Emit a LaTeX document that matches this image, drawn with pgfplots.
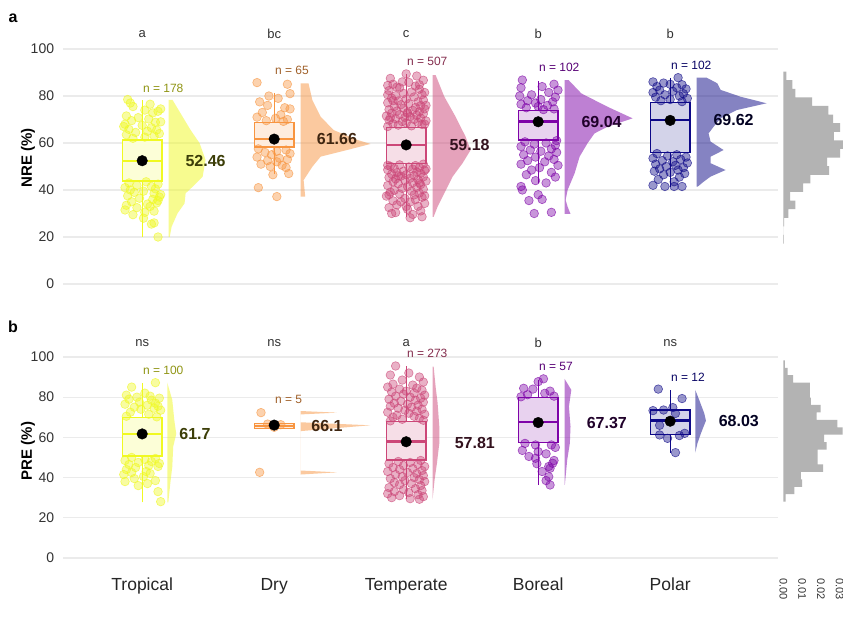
\documentclass[border=0pt]{standalone}
\usepackage{fontspec}
\setmainfont{Liberation Sans}
\usepackage{pgfplots}
\pgfplotsset{compat=1.18}
\definecolor{cT}{HTML}{F0F921}
\definecolor{cD}{HTML}{F89540}
\definecolor{cM}{HTML}{CC4778}
\definecolor{cB}{HTML}{7E03A8}
\definecolor{cP}{HTML}{0D0887}
\definecolor{histgray}{HTML}{B3B3B3}
\definecolor{gridc}{HTML}{EBEBEB}
\newcommand{\fs}[1]{\fontsize{#1}{#1}\selectfont}
\pgfplotsset{
  rain/.style={scale only axis, width=715.4pt, xmin=0.4, xmax=5.82, ymin=-5, ymax=110,
    anchor=south west, clip=false,
    axis line style={draw=none}, major tick length=0pt,
    ymajorgrids, grid style={color=gridc, line width=1.2pt},
    ytick={0,20,40,60,80,100},
    /pgf/number format/assume math mode=true,
    yticklabel style={font=\fs{14}, text=black!80, anchor=east, inner sep=0pt, xshift=-8.7pt}},
  pts/.style={only marks, mark=*, mark size=4.3pt, mark options={solid, fill=#1, fill opacity=0.42, draw=#1, draw opacity=0.65, line width=0.6pt}},
  vio/.style={fill=#1, fill opacity=0.5, draw=none},
  meanpt/.style={only marks, mark=*, mark size=5.3pt, mark options={fill=black, draw=black}},
  hist/.style={scale only axis, width=60pt, xmin=0, xmax=0.032, ymin=-5, ymax=110, anchor=south west, clip=false}
}
% box: colour, x, left, right, lower whisker, q1, median, q3, upper whisker
\newcommand{\boxp}[9]{%
 \addplot[draw=#1, line width=1.3pt, forget plot] coordinates {(#2,#5) (#2,#6)};
 \addplot[draw=#1, line width=1.3pt, forget plot] coordinates {(#2,#8) (#2,#9)};
 \addplot[draw=#1, fill=#1!18!white, line width=1.3pt, line cap=rect, forget plot] coordinates {(#3,#6) (#4,#6) (#4,#8) (#3,#8) (#3,#6)};
 \addplot[draw=#1, line width=2.4pt, forget plot] coordinates {(#3,#7) (#4,#7)};
}
\newcommand{\nlab}[4]{\node[font=\fs{12}, text=#1, anchor=west, inner sep=0pt] at (axis cs:#2,#3) {n = #4};}
\newcommand{\mlab}[4]{\node[font=\bfseries\fs{16}, text=#1!25!black, inner sep=0pt] at (axis cs:#2,#3) {#4};}
\newcommand{\sig}[3]{\node[font=\fs{13}, text=black!80, inner sep=0pt] at (axis cs:#1,#2) {#3};}
\begin{document}
\begin{tikzpicture}
\useasboundingbox (0pt,0pt) rectangle (843pt,616pt);
\fill[white] (0pt,0pt) rectangle (843pt,616pt);
% ================= Panel a =================
\begin{axis}[rain, height=270.25pt, at={(63pt,320.25pt)}, xtick=\empty]
% violins
\addplot[vio=cT] coordinates {(1.2,78.3) (1.23,78.3) (1.276,74.0) (1.367,65.5) (1.435,59.9) (1.48,52.8) (1.458,45.7) (1.382,41.4) (1.329,38.6) (1.321,34.3) (1.268,30.1) (1.223,24.4) (1.208,19.9) (1.2,19.9)};
\addplot[vio=cD] coordinates {(2.2,85.4) (2.26,85.4) (2.289,78.3) (2.352,71.2) (2.45,65.5) (2.63,61.3) (2.73,59.6) (2.60,57.7) (2.352,54.2) (2.289,49.9) (2.223,44.2) (2.235,37.2) (2.2,37.2)};
\addplot[vio=cM] coordinates {(3.2,88.9) (3.223,88.9) (3.289,79.7) (3.374,71.2) (3.45,62.7) (3.488,57.0) (3.427,51.4) (3.352,45.7) (3.289,38.6) (3.238,32.9) (3.208,28.6) (3.2,28.6)};
\addplot[vio=cB] coordinates {(4.2,86.8) (4.23,86.8) (4.327,81.1) (4.526,75.4) (4.715,70.5) (4.526,66.9) (4.427,64.1) (4.374,59.9) (4.314,54.2) (4.276,47.1) (4.223,40.0) (4.208,35.7) (4.223,32.9) (4.245,29.8) (4.2,29.8)};
\addplot[vio=cP] coordinates {(5.2,87.8) (5.276,87.8) (5.357,85.4) (5.382,82.6) (5.533,79.7) (5.73,76.9) (5.503,74.0) (5.382,70.5) (5.329,66.9) (5.291,64.1) (5.306,60.6) (5.405,57.0) (5.306,54.2) (5.306,51.4) (5.42,48.5) (5.306,45.7) (5.253,43.5) (5.208,41.4) (5.2,41.4)};
% points
\addplot[pts=cT] coordinates {(0.89,78.5) (0.91,77.0) (1.06,76.5) (0.93,75.5) (1.02,74.0) (1.12,73.5) (1.08,72.8) (0.88,71.5) (0.97,70.8) (1.05,70.2) (0.92,69.5) (1.10,68.8) (0.87,68.0) (1.00,67.5) (1.07,66.5) (0.90,65.8) (1.11,65.5) (1.04,65.0) (0.95,64.5) (1.13,64.0) (0.88,63.5) (1.09,63.0) (1.02,62.5) (0.93,62.0) (1.14,74.5) (0.86,67.0) (1.14,69.0)
(1.03,43.5) (0.90,43.0) (1.12,42.5) (0.96,42.0) (1.07,41.5) (0.87,41.0) (1.10,40.5) (0.91,40.0) (1.01,39.5) (0.94,39.0) (1.09,38.5) (0.89,37.5) (1.13,37.0) (0.98,36.5) (1.08,36.0) (0.92,35.0) (1.11,34.5) (1.04,34.0) (0.88,33.5) (1.06,33.0) (0.96,32.5) (0.87,31.5) (1.09,31.0) (1.02,30.5) (0.93,29.5) (1.01,28.0) (1.09,26.0) (1.07,25.5) (1.12,20.0) (1.14,38.0) (1.12,35.5)};
\addplot[pts=cD] coordinates {(1.87,85.7) (2.10,85.0) (2.12,81.0) (1.96,80.0) (2.03,79.0) (1.89,77.5) (1.95,76.0) (2.08,75.0) (2.12,74.5) (1.91,73.0) (2.05,72.0) (1.87,71.0) (2.01,70.5) (2.10,70.0) (1.94,69.5) (2.07,69.2)
(1.88,57.5) (2.09,57.0) (2.02,56.5) (1.93,56.0) (2.12,55.5) (1.98,55.0) (1.87,54.0) (2.10,53.0) (1.95,52.5) (2.02,52.0) (1.90,51.0) (2.06,50.5) (1.97,50.0) (2.11,47.0) (1.99,46.5) (1.88,41.0) (2.02,37.2) (2.04,53.5) (2.09,49.5)};
\addplot[pts=cM] coordinates {(2.86,67.0) (3.04,67.3) (2.94,67.6) (3.12,67.9) (2.90,68.2) (3.00,68.5) (3.09,68.8) (2.97,69.1) (3.15,69.4) (2.87,69.7) (3.06,70.0) (2.92,70.3) (3.11,70.6) (2.99,70.9) (3.03,71.2) (2.85,71.5) (3.08,71.8) (2.95,72.1) (3.13,72.4) (2.89,72.7) (3.01,73.0) (3.10,73.3) (2.93,73.6) (3.05,73.9) (2.87,74.2) (3.14,74.5) (2.98,74.8) (3.07,75.1) (2.91,75.5) (3.11,75.9) (2.96,76.3) (3.02,76.7) (2.86,77.1) (3.09,77.5) (2.94,77.9) (3.13,78.3) (3.00,78.7) (2.89,79.1) (3.06,79.6) (2.92,80.1) (3.12,80.6) (2.98,81.1) (3.04,81.7) (2.87,82.3) (3.10,82.9) (2.95,83.5) (3.07,84.2) (2.90,85.0) (3.02,85.8) (3.13,86.7) (2.88,87.5) (3.08,88.5) (3.00,89.4)
(3.14,68.0) (2.88,70.8) (3.01,72.6) (3.15,76.0) (2.90,78.0) (2.86,80.5) (3.14,81.5) (2.93,83.8) (2.86,84.5) (3.10,84.8) (2.97,86.0)
(3.13,51.0) (2.95,50.7) (3.07,50.4) (2.88,50.1) (3.02,49.8) (3.10,49.5) (2.91,49.2) (3.05,48.9) (2.86,48.6) (3.14,48.3) (2.98,48.0) (3.08,47.7) (2.93,47.4) (3.11,47.1) (2.89,46.8) (3.00,46.5) (3.06,46.2) (2.96,45.9) (3.13,45.6) (2.87,45.3) (3.03,45.0) (2.92,44.7) (3.09,44.4) (2.99,44.1) (3.15,43.8) (2.90,43.5) (3.05,43.1) (2.94,42.7) (3.11,42.3) (2.86,41.9) (3.01,41.5) (3.08,41.1) (2.97,40.7) (3.13,40.3) (2.91,39.9) (3.04,39.5) (2.88,39.1) (3.10,38.7) (2.95,38.3) (3.06,37.9) (2.85,37.4) (3.12,36.9) (2.99,36.4) (3.07,35.9) (2.90,35.4) (3.03,34.9) (3.14,34.3) (2.93,33.7) (3.09,33.1) (2.87,32.5) (3.01,31.8) (3.11,31.1) (2.92,30.4) (3.05,29.6) (3.12,28.6)
(2.86,50.5) (3.15,49.0) (2.94,46.0) (3.10,43.0) (2.87,38.0) (3.00,33.0) (2.89,30.0) (3.03,28.2) (3.14,37.5) (2.96,35.0)};
\addplot[pts=cB] coordinates {(3.88,86.8) (4.12,85.0) (4.03,84.0) (3.87,83.5) (4.15,82.5) (4.08,81.5) (3.95,80.5) (3.86,80.0) (4.13,79.5) (4.02,78.5) (3.92,78.0) (4.11,77.5) (3.98,77.0) (3.87,76.5) (4.07,76.0) (4.00,75.5) (3.91,75.0) (4.12,74.5) (4.04,74.2)
(4.14,61.0) (3.90,60.5) (4.06,60.0) (3.97,59.5) (4.13,59.0) (3.87,58.5) (4.10,57.5) (3.94,57.0) (4.02,56.5) (4.14,56.0) (3.89,55.0) (4.08,54.5) (3.98,54.0) (4.12,53.0) (3.92,52.5) (4.05,52.0) (3.87,51.0) (4.15,50.5) (4.01,49.5) (3.95,48.5) (4.10,47.5) (3.91,46.5) (4.13,45.5) (3.98,44.0) (4.06,43.0) (3.87,41.5) (3.88,40.0) (4.00,38.0) (4.03,36.0) (3.93,35.5) (3.97,30.0) (4.10,30.5)};
\addplot[pts=cP] coordinates {(5.06,87.8) (4.87,86.0) (4.95,85.5) (5.00,85.0) (5.09,84.8) (4.90,84.0) (5.05,83.5) (5.12,83.0) (4.92,82.5) (5.02,82.0) (4.87,81.5) (5.10,81.0) (4.96,80.5) (5.07,80.0) (4.89,79.5) (5.13,79.0) (5.00,78.5) (4.93,78.0) (5.09,77.6)
(4.90,55.5) (5.05,55.0) (4.98,54.5) (5.12,54.0) (4.87,53.5) (5.08,53.0) (4.94,52.5) (5.02,52.0) (5.13,51.5) (4.89,51.0) (5.04,50.5) (4.97,50.0) (5.10,49.5) (4.92,49.0) (5.06,48.5) (4.88,48.0) (5.00,47.5) (5.11,47.0) (4.95,46.5) (5.07,45.5) (4.91,44.5) (5.03,43.5) (4.87,42.0) (4.96,41.5) (5.03,41.5) (5.09,41.5)};
% boxes
\boxp{cT}{1}{0.85}{1.15}{19.9}{43.8}{52.3}{61.3}{78.3}
\boxp{cD}{2}{1.85}{2.15}{46.8}{58.3}{61.8}{68.8}{81.1}
\boxp{cM}{3}{2.85}{3.15}{28.6}{51.4}{59.1}{66.5}{89.4}
\boxp{cB}{4}{3.85}{4.15}{42.8}{61.3}{69.1}{73.8}{86.5}
\boxp{cP}{5}{4.85}{5.15}{41.4}{55.9}{69.8}{77.3}{87.5}
% means
\addplot[meanpt] coordinates {(1,52.46) (2,61.66) (3,59.18) (4,69.04) (5,69.62)};
\mlab{cT}{1.48}{52.2}{52.46}
\mlab{cD}{2.475}{61.66}{61.66}
\mlab{cM}{3.48}{59.18}{59.18}
\mlab{cB}{4.48}{69.04}{69.04}
\mlab{cP}{5.48}{69.62}{69.62}
\nlab{cT!60!black}{1.005}{83.4}{178}
\nlab{cD!65!black}{2.005}{90.8}{65}
\nlab{cM!65!black}{3.005}{94.6}{507}
\nlab{cB!70!black}{4.005}{92.0}{102}
\nlab{cP!75!black}{5.005}{93.2}{102}
\sig{1}{106.4}{a}
\sig{2}{106.4}{bc}
\sig{3}{106.4}{c}
\sig{4}{106.4}{b}
\sig{5}{106.4}{b}
\end{axis}
\begin{axis}[hist, height=270.25pt, at={(783.3pt,320.25pt)}, hide axis]
\addplot[xbar interval, fill=histgray, draw=none] coordinates {(0.0003,17.2) (0,20.86) (0.0005,24.52) (0.0027,28.18) (0.0064,31.84) (0.0037,35.5) (0.0106,39.16) (0.0144,42.82) (0.0245,46.48) (0.0234,50.14) (0.0303,53.8) (0.0320,57.46) (0.0270,61.12) (0.0303,64.78) (0.0266,68.44) (0.0240,72.1) (0.0154,75.76) (0.0064,79.42) (0.0048,83.08) (0.0016,86.74) (0,90.4)};
\end{axis}
% ================= Panel b =================
\begin{axis}[rain, height=231.15pt, at={(63pt,48pt)}, xtick={1,2,3,4,5}, xticklabels={Tropical,Dry,Temperate,Boreal,Polar},
  xticklabel style={font=\fs{17.5}, text=black!85, anchor=base, inner sep=0pt, yshift=-22.5pt}]
\addplot[vio=cT] coordinates {(1.19,87.2) (1.228,78.6) (1.243,68.7) (1.258,61.7) (1.235,55.4) (1.228,45.4) (1.213,37.2) (1.198,27.7) (1.19,27.7)};
\addplot[vio=cD] coordinates {(2.2,73.1) (2.475,72.3) (2.2,71.4) (2.2,67.5) (2.727,66.0) (2.2,63.1) (2.2,43.5) (2.475,42.6) (2.2,41.5)};
\addplot[vio=cM] coordinates {(3.2,95.2) (3.208,95.2) (3.223,85.2) (3.238,77.1) (3.251,65.3) (3.251,57.1) (3.233,47.1) (3.215,38.8) (3.2,29.2)};
\addplot[vio=cB] coordinates {(4.2,89.1) (4.251,83.6) (4.233,75.3) (4.245,65.3) (4.24,57.1) (4.22,48.8) (4.202,36.3) (4.2,36.3)};
\addplot[vio=cP] coordinates {(5.19,83.6) (5.22,78.6) (5.258,72.0) (5.271,68.3) (5.233,62.0) (5.207,57.1) (5.19,52.4)};
\addplot[pts=cT] coordinates {(1.10,87.2) (0.92,85.0) (1.02,82.0) (0.88,81.0) (1.06,80.5) (0.96,80.0) (1.13,79.5) (0.90,79.0) (1.07,78.5) (0.98,77.5) (1.10,77.0) (0.87,76.5) (1.04,76.0) (1.12,75.5) (0.94,75.0) (1.09,74.5) (0.99,74.0) (1.14,73.5) (0.91,72.5) (1.05,71.5) (0.88,70.5) (1.11,70.2)
(0.92,50.0) (1.10,49.5) (1.02,49.0) (0.87,48.5) (1.07,48.0) (0.97,47.5) (1.13,47.0) (0.90,46.5) (1.05,46.0) (1.12,45.5) (0.95,45.0) (0.88,44.0) (1.03,43.0) (0.92,42.5) (1.06,42.0) (0.86,41.5) (1.01,40.5) (0.94,39.5) (1.10,38.5) (0.87,38.0) (1.04,37.0) (0.97,36.0) (1.12,33.0) (1.14,28.0)};
\addplot[pts=cD] coordinates {(1.90,72.3) (1.89,42.6) (2.00,65.0) (2.05,66.3) (1.95,66.6)};
\addplot[pts=cM] coordinates {(2.92,95.5) (3.02,92.0) (2.88,91.0) (3.10,90.0) (2.97,88.5) (3.13,87.5) (2.90,86.5) (3.05,86.0) (2.86,85.0) (3.08,84.5) (2.95,84.0) (3.12,83.5) (3.00,83.0) (2.89,82.5) (3.06,82.0) (2.98,81.5) (3.14,81.0) (2.92,80.5) (3.03,80.0) (3.11,79.5) (2.87,79.0) (3.07,78.5) (2.96,78.0) (3.13,77.5) (2.91,77.0) (3.01,76.5) (3.09,76.0) (2.88,75.5) (3.04,75.0) (2.94,74.5) (3.12,74.0) (2.99,73.5) (3.08,73.0) (2.86,72.5) (3.02,72.0) (3.14,71.5) (2.93,71.0) (3.06,70.5) (2.90,70.0) (3.10,69.5) (2.97,69.0) (3.13,68.5) (2.88,68.2)
(3.11,48.5) (2.94,48.0) (3.03,47.5) (2.87,47.0) (3.09,46.5) (2.98,46.0) (3.14,45.5) (2.90,45.0) (3.05,44.5) (2.95,44.0) (3.12,43.5) (2.86,43.0) (3.01,42.5) (3.08,42.0) (2.92,41.5) (3.13,41.0) (2.97,40.5) (3.06,40.0) (2.88,39.5) (3.10,39.0) (2.99,38.5) (3.14,38.0) (2.91,37.5) (3.04,37.0) (2.95,36.5) (3.11,36.0) (2.87,35.0) (3.07,34.5) (2.98,34.0) (3.12,33.5) (2.91,33.0) (3.02,32.5) (2.86,32.0) (3.09,31.5) (2.95,31.0) (3.13,30.5) (2.89,30.0) (3.03,29.5) (3.10,29.2)};
\addplot[pts=cB] coordinates {(4.04,89.1) (4.00,87.7) (3.89,84.4) (3.96,84.0) (4.09,83.0) (4.05,81.9) (3.92,81.2) (4.12,80.5) (3.87,80.2)
(3.90,57.0) (3.98,56.2) (4.10,56.2) (4.13,55.0) (3.88,53.5) (4.00,52.9) (4.06,51.8) (3.93,50.5) (3.98,49.6) (4.12,48.5) (4.11,47.1) (3.99,46.9) (4.08,45.5) (4.09,44.6) (4.03,43.0) (4.08,40.4) (4.06,38.5) (4.09,36.3)};
\addplot[pts=cP] coordinates {(4.91,84.0) (5.09,79.3) (5.02,74.8) (4.95,73.6) (4.87,73.3) (5.04,71.9) (4.92,66.0) (5.11,62.0) (4.92,61.2) (5.07,60.9) (4.98,59.5) (5.04,52.4)};
\boxp{cT}{1}{0.85}{1.15}{27.7}{50.7}{61.7}{69.8}{87.2}
\boxp{cD}{2}{1.85}{2.15}{64.3}{64.3}{65.7}{67.0}{67.0}
\boxp{cM}{3}{2.85}{3.15}{29.2}{48.8}{57.9}{67.8}{95.5}
\boxp{cB}{4}{3.85}{4.15}{36.3}{57.4}{67.5}{79.8}{88.6}
\boxp{cP}{5}{4.85}{5.15}{52.4}{61.5}{68.3}{73.6}{83.6}
\addplot[meanpt] coordinates {(1,61.7) (2,66.1) (3,57.81) (4,67.37) (5,68.03)};
\mlab{cT}{1.40}{61.5}{61.7}
\mlab{cD}{2.40}{65.8}{66.1}
\mlab{cM}{3.52}{57.4}{57.81}
\mlab{cB}{4.52}{67.3}{67.37}
\mlab{cP}{5.52}{68.0}{68.03}
\nlab{cT!60!black}{1.005}{93.5}{100}
\nlab{cD!65!black}{2.005}{79.0}{5}
\nlab{cM!65!black}{3.005}{101.8}{273}
\nlab{cB!70!black}{4.005}{95.2}{57}
\nlab{cP!75!black}{5.005}{89.9}{12}
\sig{1}{107}{ns}
\sig{2}{107}{ns}
\sig{3}{107}{a}
\sig{4}{107}{b}
\sig{5}{107}{ns}
\end{axis}
\begin{axis}[hist, height=231.15pt, at={(783.3pt,48pt)},
  axis line style={draw=none}, major tick length=0pt, ytick=\empty,
  scaled x ticks=false,
  xtick={0,0.01,0.02,0.03}, xticklabels={0.00,0.01,0.02,0.03},
  xticklabel style={font=\fs{11}, text=black!80, rotate=-90, anchor=west, inner xsep=10pt, inner ysep=0pt}]
\addplot[xbar interval, fill=histgray, draw=none] coordinates {(0.0013,28.0) (0.0059,31.7) (0.0101,35.4) (0.0094,39.1) (0.0213,42.8) (0.0183,46.5) (0.0183,50.2) (0.0231,53.9) (0.0218,57.6) (0.0316,61.3) (0.0289,65.0) (0.0178,68.7) (0.0199,72.4) (0.0147,76.1) (0.0142,79.8) (0.0142,83.5) (0.0053,87.2) (0.0023,90.9) (0.0009,94.6) (0,98.3)};
\end{axis}
% labels outside axes
\node[font=\bfseries\fs{15}, rotate=90, inner sep=0pt] at (28pt,458pt) {NRE (\%)};
\node[font=\bfseries\fs{15}, rotate=90, inner sep=0pt] at (28pt,165pt) {PRE (\%)};
\node[font=\bfseries\fs{16}, inner sep=0pt] at (13pt,598pt) {a};
\node[font=\bfseries\fs{16}, inner sep=0pt] at (13pt,289pt) {b};
\end{tikzpicture}
\end{document}
